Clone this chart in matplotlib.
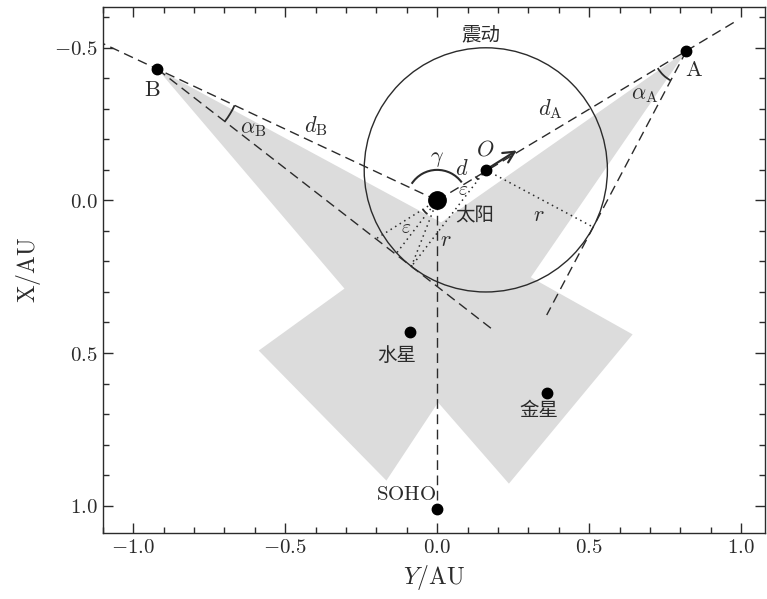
import numpy as np
import matplotlib
matplotlib.use('Agg')
import matplotlib.pyplot as plt
from matplotlib.patches import Polygon, Circle, Arc
from matplotlib.ticker import MultipleLocator, FuncFormatter

plt.rcParams['mathtext.fontset'] = 'cm'
plt.rcParams['font.family'] = ['DejaVu Serif']

CJK = ['Noto Sans CJK SC', 'DejaVu Sans']
INK = '#2b2b2b'

# positions in AU (horizontal = Y, vertical = X, X axis inverted)
SUN = np.array([0.0, 0.0])
O_POS = np.array([0.16, -0.10])      # shock centre
SHOCK_R = 0.40
A_POS = np.array([0.82, -0.49])
B_POS = np.array([-0.92, -0.43])
MERCURY = np.array([-0.09, 0.43])
VENUS = np.array([0.36, 0.63])
SOHO = np.array([0.0, 1.01])
LINE_EXT = 1.2                       # sun-spacecraft lines run 1.2x past the sun

# grey field-of-view region
shade_x = [-0.92, 0.013, 0.82, 0.308, 0.643, 0.236, 0.003, -0.167, -0.587, -0.305]
shade_y = [-0.43, 0.072, -0.49, 0.252, 0.439, 0.928, 0.662, 0.918, 0.492, 0.289]

XLIM = (-1.1, 1.08)
YLIM = (1.09, -0.633)


def tangent(p, c, r, sign):
    v = c - p
    ang = np.arctan2(v[1], v[0]) + sign * np.arcsin(r / np.hypot(*v))
    u = np.array([np.cos(ang), np.sin(ang)])
    foot = p + np.dot(c - p, u) * u
    return u, foot


def deg(v):
    return np.degrees(np.arctan2(v[1], v[0]))


fig = plt.figure(figsize=(7.67, 5.99), dpi=100)
ax = fig.add_axes([0.134, 0.110, 0.864, 0.878])

ax.add_patch(Polygon(np.column_stack([shade_x, shade_y]), closed=True,
                     facecolor='#dcdcdc', edgecolor='none', zorder=1))

ax.add_patch(Circle(O_POS, SHOCK_R, fill=False, ec=INK, lw=1.0, zorder=3))

dash = dict(color=INK, lw=1.0, ls=(0, (7, 4)), zorder=2)
dot = dict(color=INK, lw=1.1, ls=(0, (1, 2.5)), zorder=2)

# spacecraft - sun lines
for p in (A_POS, B_POS):
    far = p * LINE_EXT
    ax.plot([SUN[0], far[0]], [SUN[1], far[1]], **dash)

# tangent lines to the shock
uB, tB = tangent(B_POS, O_POS, SHOCK_R, +1)
uA, tA = tangent(A_POS, O_POS, SHOCK_R, -1)
endB = B_POS + 1.39 * uB
endA = A_POS + 0.98 * uA
ax.plot([B_POS[0], endB[0]], [B_POS[1], endB[1]], **dash)
ax.plot([A_POS[0], endA[0]], [A_POS[1], endA[1]], **dash)

# sun - SOHO
ax.plot([SUN[0], SOHO[0]], [SUN[1], SOHO[1]], **dash)

# radii and helper lines
ax.plot([O_POS[0], tA[0]], [O_POS[1], tA[1]], **dot)
ax.plot([O_POS[0], tB[0]], [O_POS[1], tB[1]], **dot)
ax.plot([SUN[0], tB[0]], [SUN[1], tB[1]], **dot)
nB = (tB - O_POS) / SHOCK_R
sun_foot = SUN + np.dot(tB - SUN, nB) * nB
ax.plot([SUN[0], sun_foot[0]], [SUN[1], sun_foot[1]], **dot)
back = -O_POS / np.hypot(*O_POS)
s = np.dot(tB - SUN, nB) / np.dot(back, nB)
p_back = SUN + s * back
ax.plot([SUN[0], p_back[0]], [SUN[1], p_back[1]], **dot)

# angle marks
arc_kw = dict(color=INK, lw=1.3, zorder=4)
a1, a2 = sorted([deg(-B_POS), deg(uB)])
ax.add_patch(Arc(B_POS, 0.56, 0.56, theta1=a1, theta2=a2, **arc_kw))
a1, a2 = sorted([deg(-A_POS), deg(uA)])
ax.add_patch(Arc(A_POS, 0.22, 0.22, theta1=a1, theta2=a2, **arc_kw))
ax.add_patch(Arc(SUN, 0.2, 0.2, theta1=deg(B_POS) + 8, theta2=deg(O_POS) - 4,
                 color=INK, lw=1.5, zorder=4))
a1, a2 = sorted([deg(-O_POS), deg(nB)])
ax.add_patch(Arc(O_POS, 0.08, 0.08, theta1=a1, theta2=a2, **arc_kw))
a1, a2 = sorted([deg(back), deg(nB)])
ax.add_patch(Arc(SUN, 0.11, 0.11, theta1=a1, theta2=a2, **arc_kw))

# direction of motion
ax.annotate('', xy=O_POS + 0.12 * O_POS / np.hypot(*O_POS), xytext=O_POS,
            arrowprops=dict(arrowstyle='->', color=INK, lw=1.6,
                            mutation_scale=20, shrinkA=0, shrinkB=0), zorder=5)

# bodies
ax.plot(*SUN, 'o', color='black', ms=12.5, zorder=6)
for p in (O_POS, A_POS, B_POS, MERCURY, VENUS, SOHO):
    ax.plot(*p, 'o', color='black', ms=7.5, zorder=6)

# labels
txt = dict(ha='center', va='center', color=INK, zorder=7)
ax.text(0.846, -0.426, r'$\mathrm{A}$', fontsize=16, **txt)
ax.text(-0.938, -0.361, r'$\mathrm{B}$', fontsize=16, **txt)
ax.text(-0.103, 0.964, r'$\mathrm{SOHO}$', fontsize=15, **txt)
ax.text(0.144, -0.543, '震动', fontsize=14, family=CJK, **txt)
ax.text(0.125, 0.049, '太阳', fontsize=14, family=CJK, **txt)
ax.text(-0.134, 0.508, '水星', fontsize=14, family=CJK, **txt)
ax.text(0.334, 0.689, '金星', fontsize=14, family=CJK, **txt)
ax.text(-0.40, -0.244, r'$d_{\rm B}$', fontsize=16, **txt)
ax.text(-0.605, -0.238, r'$\alpha_{\rm B}$', fontsize=16, **txt)
ax.text(0.372, -0.300, r'$d_{\rm A}$', fontsize=16, **txt)
ax.text(0.684, -0.349, r'$\alpha_{\rm A}$', fontsize=16, **txt)
ax.text(0.0, -0.138, r'$\gamma$', fontsize=16, **txt)
ax.text(0.157, -0.166, r'$O$', fontsize=16, **txt)
ax.text(0.082, -0.104, r'$d$', fontsize=16, **txt)
ax.text(0.086, -0.033, r'$\varepsilon$', fontsize=14, **txt)
ax.text(-0.102, 0.090, r'$\varepsilon$', fontsize=14, **txt)
ax.text(0.028, 0.131, r'$r$', fontsize=16, **txt)
ax.text(0.334, 0.049, r'$r$', fontsize=16, **txt)

# axes
ax.set_xlim(*XLIM)
ax.set_ylim(*YLIM)
ax.xaxis.set_major_locator(MultipleLocator(0.5))
ax.xaxis.set_minor_locator(MultipleLocator(0.1))
ax.yaxis.set_major_locator(MultipleLocator(0.5))
ax.yaxis.set_minor_locator(MultipleLocator(0.1))
fmt = FuncFormatter(lambda v, pos: f'${v + 0:.1f}$')
ax.xaxis.set_major_formatter(fmt)
ax.yaxis.set_major_formatter(fmt)
ax.tick_params(which='both', direction='in', top=True, right=True,
               labelsize=15, color=INK, labelcolor=INK)
ax.tick_params(which='major', length=7, width=1)
ax.tick_params(which='minor', length=4.5, width=1)
for sp in ax.spines.values():
    sp.set_color(INK)
    sp.set_linewidth(1.0)
ax.set_xlabel(r'$Y/\mathrm{AU}$', fontsize=17, color=INK, labelpad=4)
ax.set_ylabel(r'$\mathrm{X/AU}$', fontsize=17, color=INK, labelpad=8)

fig.savefig('out.png', dpi=100)
